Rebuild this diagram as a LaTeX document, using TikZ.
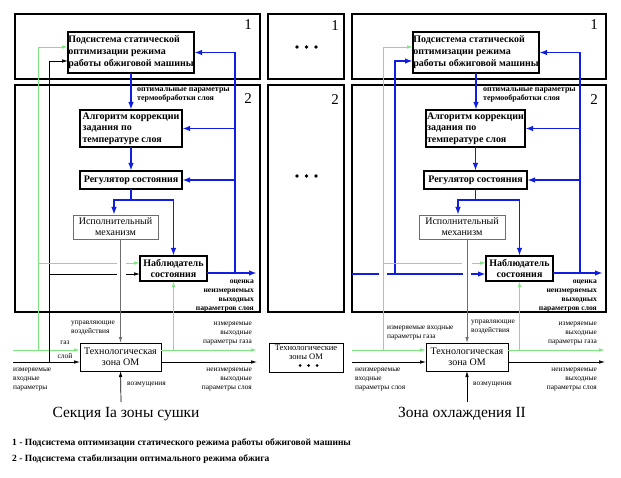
\documentclass[tikz,border=0pt]{standalone}
\usepackage{fontspec}
\setmainfont{Liberation Serif}
\usetikzlibrary{arrows.meta,calc}
\definecolor{bl}{RGB}{15,30,225}
\definecolor{gr}{RGB}{125,230,125}
\definecolor{gy}{RGB}{110,110,110}
\begin{document}
\begin{tikzpicture}[x=1pt,y=-1pt,
  frame/.style={draw,line width=1.6pt,inner sep=0pt,outer sep=0pt},
  tb/.style={draw,line width=1.5pt,inner sep=0pt,outer sep=0pt,font=\fontsize{10}{12}\selectfont\bfseries},
  ib/.style={draw=gy,line width=0.8pt,inner sep=0pt,outer sep=0pt,align=center,font=\fontsize{10}{11}\selectfont},
  zb/.style={draw,line width=0.8pt,inner sep=0pt,outer sep=0pt,align=center,font=\fontsize{10}{10.5}\selectfont},
  num/.style={font=\fontsize{15}{15}\selectfont,inner sep=0pt},
  lab/.style={font=\fontsize{7.4}{9}\selectfont,inner sep=0pt},
  blab/.style={font=\fontsize{7.6}{9}\selectfont\bfseries,inner sep=0pt,align=right,anchor=east},
  olab/.style={font=\fontsize{8}{8.5}\selectfont\bfseries,inner sep=0pt,align=left,anchor=west},
  ttl/.style={font=\fontsize{15.5}{16}\selectfont,inner sep=0pt},
  leg/.style={font=\fontsize{9.5}{10}\selectfont\bfseries,inner sep=0pt,anchor=west},
  bla/.style={draw=bl,line width=1.6pt,-{Latex[length=8pt,width=5.5pt]}},
  bll/.style={draw=bl,line width=1.6pt},
  gra/.style={draw=gr,line width=0.9pt,-{Latex[length=6pt,width=3.5pt]}},
  grl/.style={draw=gr,line width=0.9pt},
  bka/.style={draw=black,line width=0.7pt,-{Latex[length=6pt,width=3.5pt]}},
  bkl/.style={draw=black,line width=0.7pt},
  gya/.style={draw=gy,line width=0.8pt,-{Latex[length=6pt,width=3.5pt]}},
  dot/.style={circle,fill=black,inner sep=0pt,minimum size=3.6pt},
  sdot/.style={circle,fill=black,inner sep=0pt,minimum size=3pt}]
\useasboundingbox (0,0) rectangle (621,478);

% ================= frames =================
\node[frame,minimum width=245pt,minimum height=65pt] (f1L) at (137.5,46.5) {};
\node[frame,minimum width=245pt,minimum height=227pt] (f2L) at (137.5,198.5) {};
\node[frame,minimum width=76pt,minimum height=65pt] (f1M) at (306,46.5) {};
\node[frame,minimum width=76pt,minimum height=227pt] (f2M) at (306,198.5) {};
\node[frame,minimum width=254pt,minimum height=65pt] (f1R) at (479,46.5) {};
\node[frame,minimum width=254pt,minimum height=227pt] (f2R) at (479,198.5) {};

\node[num] (n1L) at (248,25) {1};
\node[num] (n2L) at (248,99) {2};
\node[num] (n1M) at (335,26) {1};
\node[num] (n2M) at (335,100) {2};
\node[num] (n1R) at (594,25) {1};
\node[num] (n2R) at (594,100) {2};

\node[dot] (d1a) at (297,47) {};
\node[dot] (d1b) at (306.5,47) {};
\node[dot] (d1c) at (316,47) {};
\node[dot] (d2a) at (297,176) {};
\node[dot] (d2b) at (306.5,176) {};
\node[dot] (d2c) at (316,176) {};

% ================= left section =================
\node[tb,minimum width=126pt,minimum height=41pt,align=left] (topL) at (131,52.5) {Подсистема статической\\оптимизации режима\\работы обжиговой машины};
\node[tb,minimum width=102pt,minimum height=37pt,align=left,font=\fontsize{10}{11.5}\selectfont\bfseries] (algL) at (131,128.5) {Алгоритм коррекции\\задания по\\температуре слоя};
\node[tb,minimum width=102pt,minimum height=18pt] (regL) at (131,180) {Регулятор состояния};
\node[ib,minimum width=85pt,minimum height=24pt] (ispL) at (115.5,227) {Исполнительный\\механизм};
\node[tb,minimum width=67pt,minimum height=25pt,align=center,font=\fontsize{10}{11}\selectfont\bfseries] (obsL) at (173.5,268.5) {Наблюдатель\\состояния};
\node[zb,minimum width=81pt,minimum height=28pt] (techL) at (120.5,357) {Технологическая\\зона ОМ};

\coordinate (jL) at (235,273);
\coordinate (oLend) at (257,273);
\coordinate (ispLin) at (114,215);
\coordinate (gLv) at (38,350);
\coordinate (gLin) at (13,350);
\coordinate (kLv) at (49,362);
\coordinate (kLin) at (13,362);
\coordinate (gLo) at (257,350);
\coordinate (kLo) at (257,362);
\coordinate (dLin) at (121,402);

\draw[bla] (topL.south) -- (algL.north);
\draw[bla] (algL.south) -- (regL.north);
\draw[bla] (regL.south) -- ++(0,11) -| (ispLin);
\draw[bla] (regL.south) -- ++(0,11) -| (obsL.north);
\draw[bla] (obsL.east |- jL) -- (oLend);
\draw[bla] (jL) |- (topL.east);
\draw[bla] (jL |- algL.east) -- (algL.east);
\draw[bla] (jL |- regL.east) -- (regL.east);

\draw[gya] (ispL.south -| techL.north) -- (techL.north);
\draw[gra] (gLv) |- ($(topL.west)+(0,-5.5)$);
\draw[gra] (gLin) -- (techL.west |- gLin);
\draw[bka] (kLv) |- ($(topL.west)+(0,8.5)$);
\draw[bka] (kLin) -- (techL.west |- kLin);
\draw[grl] (38,263) -- (117,263);
\draw[gra] (126,263) -- (obsL.west |- 0,263);
\draw[bkl] (49,274) -- (117,274);
\draw[bka] (126,274) -- (obsL.west |- 0,274);
\draw[gra] (obsL.south |- gLo) -- (obsL.south);
\draw[gra] (techL.east |- gLo) -- (gLo);
\draw[bka] (techL.east |- kLo) -- (kLo);
\draw[bka] (dLin) -- (techL.south);

\node[olab] (optL) at (137,95) {оптимальные параметры\\термообработки слоя};
\node[blab] (estL) at (254,296) {оценка\\неизмеряемых\\выходных\\параметров слоя};
\node[lab,align=left,anchor=west] (ctlL) at (71,327.5) {управляющие\\воздействия};
\node[lab] (gasL) at (65,343) {газ};
\node[lab] (layL) at (65,356) {слой};
\node[lab,align=left,anchor=west] (inL) at (13,379.5) {измеряемые\\входные\\параметры};
\node[lab,anchor=west] (distL) at (127,385) {возмущения};
\node[lab,align=right,anchor=east] (ogL) at (252,334) {измеряемые\\выходные\\параметры газа};
\node[lab,align=right,anchor=east] (olL) at (252,379.5) {неизмеряемые\\выходные\\параметры слоя};

% ================= middle =================
\node[zb,minimum width=74pt,minimum height=29pt] (techM) at (306,357.5) {};
\node[inner sep=0pt,align=center,font=\fontsize{8.5}{9}\selectfont] (techMt) at (306,352.5) {Технологические\\зоны ОМ};
\node[sdot] (d3a) at (300,365.5) {};
\node[sdot] (d3b) at (308.5,365.5) {};
\node[sdot] (d3c) at (317,365.5) {};

% ================= right section =================
\node[tb,minimum width=126pt,minimum height=41pt,align=left] (topR) at (476,52.5) {Подсистема статической\\оптимизации режима\\работы обжиговой машины};
\node[tb,minimum width=99pt,minimum height=37pt,align=left,font=\fontsize{10}{11.5}\selectfont\bfseries] (algR) at (475.5,128.5) {Алгоритм коррекции\\задания по\\температуре слоя};
\node[tb,minimum width=103pt,minimum height=18pt] (regR) at (475.5,180) {Регулятор состояния};
\node[ib,minimum width=86pt,minimum height=24pt] (ispR) at (462,227) {Исполнительный\\механизм};
\node[tb,minimum width=67pt,minimum height=25pt,align=center,font=\fontsize{10}{11}\selectfont\bfseries] (obsR) at (519.5,268.5) {Наблюдатель\\состояния};
\node[zb,minimum width=82pt,minimum height=28pt] (techR) at (467,357) {Технологическая\\зона ОМ};

\coordinate (jR) at (580,273);
\coordinate (oRend) at (603,273);
\coordinate (ispRin) at (458,215);
\coordinate (gRv) at (383,350);
\coordinate (gRin) at (352,350);
\coordinate (kRin) at (352,362);
\coordinate (bRv) at (395,274);
\coordinate (gRo) at (605,350);
\coordinate (kRo) at (605,362);
\coordinate (dRin) at (467,402);

\draw[bla] (topR.south) -- (topR.south |- algR.north);
\draw[bla] (algR.south) -- (regR.north);
\draw[bla] (regR.south) -- ++(0,11) -| (ispRin);
\draw[bla] (regR.south) -- ++(0,11) -| (obsR.north);
\draw[bla] (obsR.east |- jR) -- (oRend);
\draw[bla] (jR) |- (topR.east);
\draw[bla] (jR |- algR.east) -- (algR.east);
\draw[bla] (jR |- regR.east) -- (regR.east);
\draw[bla] (bRv) |- ($(topR.west)+(0,8.5)$);
\draw[bll] (352,274) -- (379,274);
\draw[bll] (387,274) -- (463,274);
\draw[bla] (471,274) -- (obsR.west |- 0,274);

\draw[gya] (ispR.south -| techR.north) -- (techR.north);
\draw[gra] (gRv) |- ($(topR.west)+(0,-5.5)$);
\draw[gra] (gRin) -- (techR.west |- gRin);
\draw[bka] (kRin) -- (techR.west |- kRin);
\draw[grl] (383,263) -- (462,263);
\draw[gra] (472,263) -- (obsR.west |- 0,263);
\draw[gra] (obsR.south |- gRo) -- (obsR.south);
\draw[gra] (techR.east |- gRo) -- (gRo);
\draw[bka] (techR.east |- kRo) -- (kRo);
\draw[bka] (dRin) -- (techR.south);

\node[olab] (optR) at (483,95) {оптимальные параметры\\термообработки слоя};
\node[blab] (estR) at (597,296) {оценка\\неизмеряемых\\выходных\\параметров слоя};
\node[lab,align=left,anchor=west] (ctlR) at (471,326.5) {управляющие\\воздействия};
\node[lab,align=left,anchor=west] (igR) at (387,333) {измеряемые входные\\параметры газа};
\node[lab,align=left,anchor=west] (ilR) at (355,379.5) {неизмеряемые\\входные\\параметры слоя};
\node[lab,anchor=west] (distR) at (473,385) {возмущения};
\node[lab,align=right,anchor=east] (ogR) at (597,334) {измеряемые\\выходные\\параметры газа};
\node[lab,align=right,anchor=east] (olR) at (597,379.5) {неизмеряемые\\выходные\\параметры слоя};

% ================= titles & legend =================
\node[ttl] (tL) at (126,414) {Секция Ia зоны сушки};
\node[ttl] (tR) at (462,414) {Зона охлаждения II};
\node[leg] (lg1) at (12,443) {1 - Подсистема оптимизации статического режима работы обжиговой машины};
\node[leg] (lg2) at (12,459) {2 - Подсистема стабилизации оптимального режима обжига};
\end{tikzpicture}
\end{document}
